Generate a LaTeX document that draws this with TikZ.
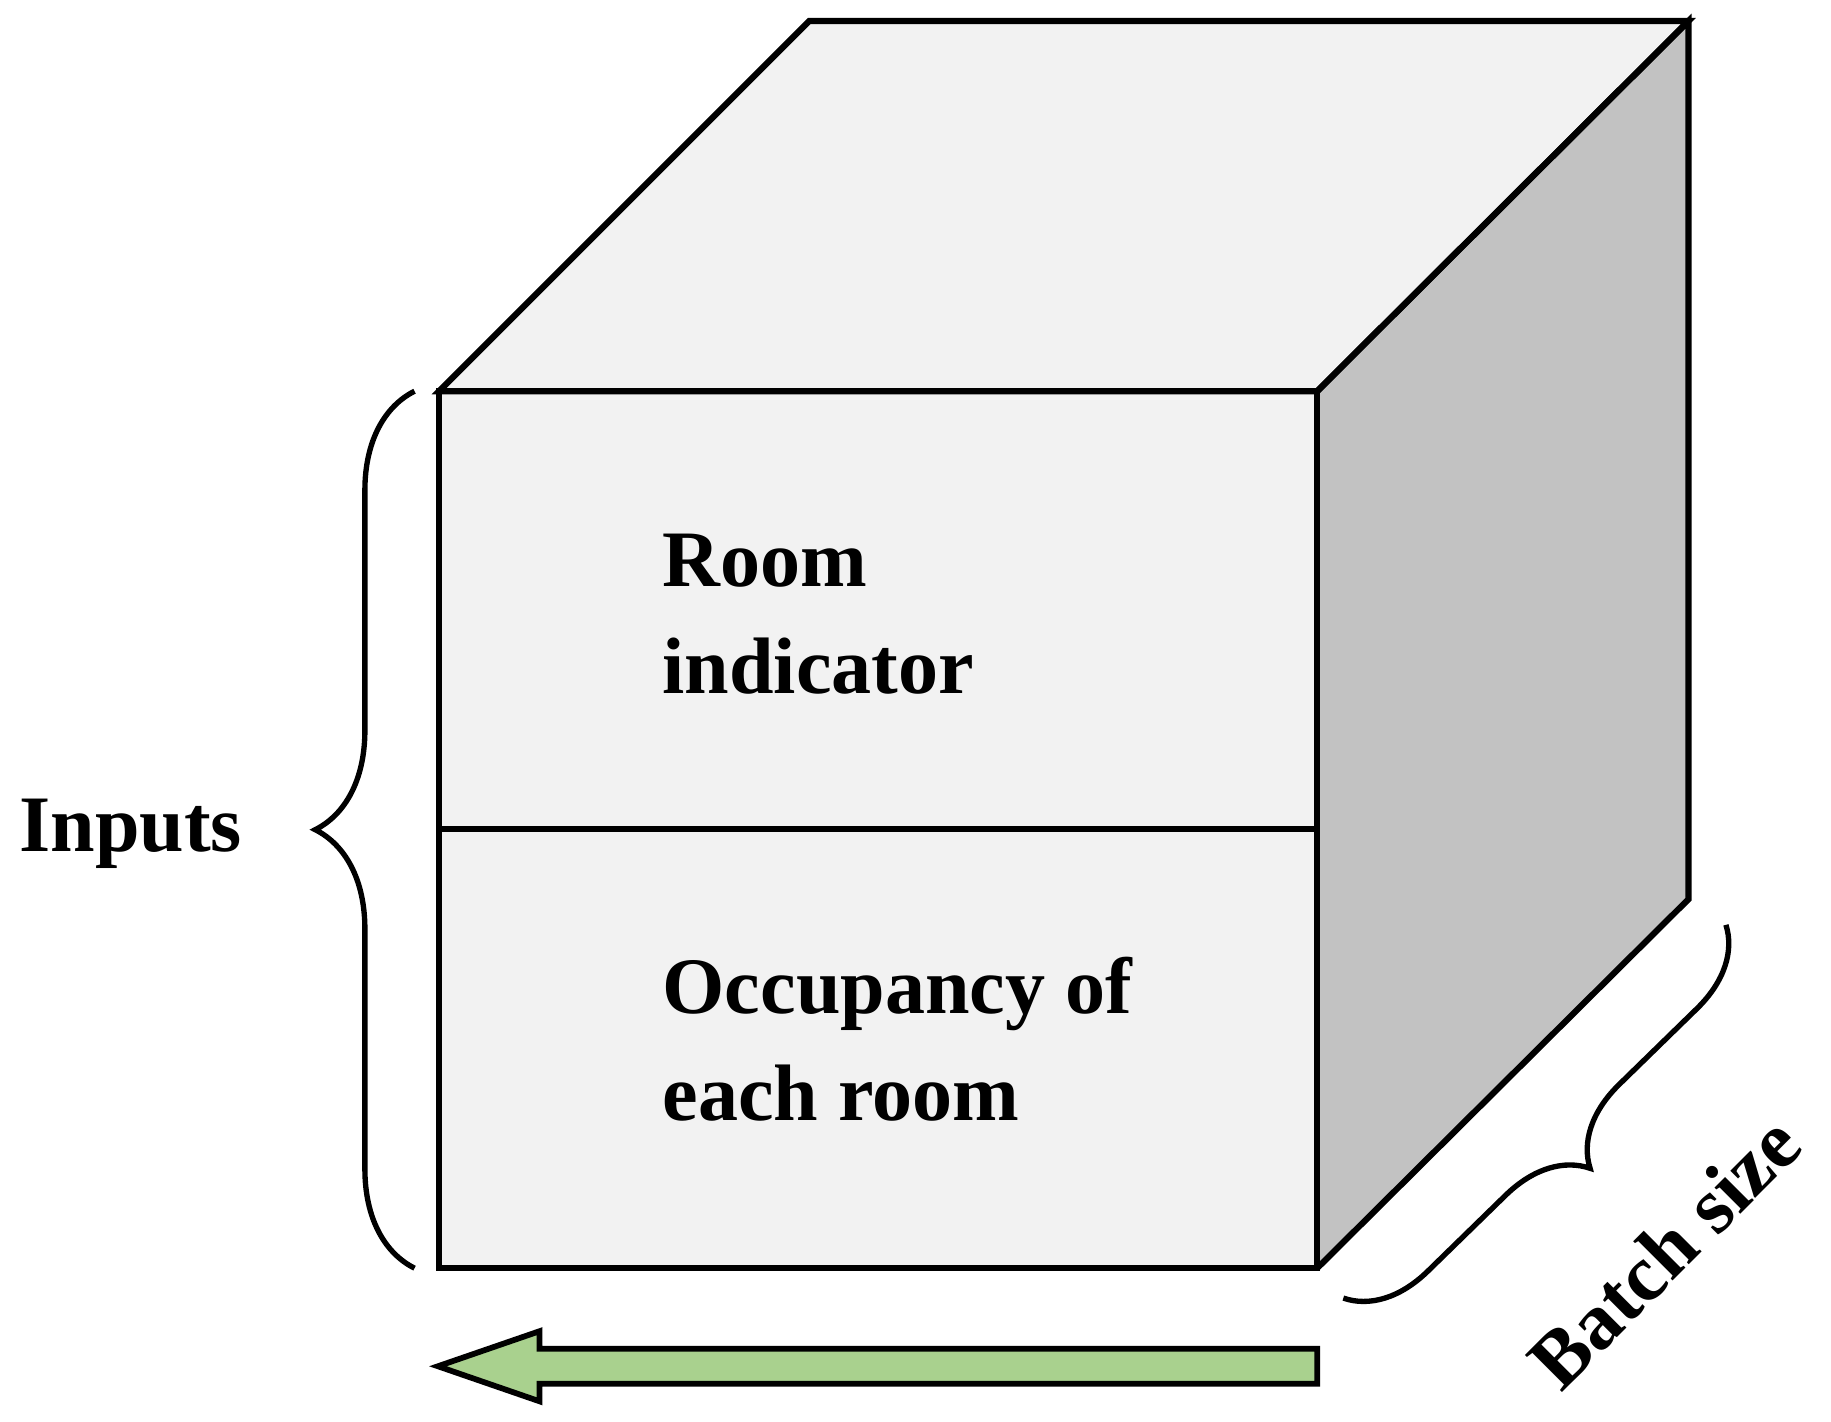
\documentclass[tikz,border=0pt]{standalone}
\usepackage{fontspec}
\setmainfont{Liberation Serif}
\usetikzlibrary{decorations.pathreplacing}
\definecolor{arrowgreen}{HTML}{A9D18E}
\begin{document}
\begin{tikzpicture}[x=0.01cm,y=-0.01cm,
  edge/.style={draw=black,line width=1.5pt,line join=miter},
  lbl/.style={font=\fontsize{19.5}{26}\selectfont\bfseries,align=left},
  brc/.style={draw=black,line width=1.3pt,decorate}]
\useasboundingbox (0,0) rectangle (1568,1217);
\coordinate (A) at (376,335); \coordinate (B) at (1128,335);
\coordinate (C) at (1128,1086); \coordinate (D) at (376,1086);
\coordinate (E) at (693,18); \coordinate (F) at (1446,18); \coordinate (G) at (1446,770);
\coordinate (ML) at (376,710); \coordinate (MR) at (1128,710);
\fill[black!5] (A) -- (E) -- (F) -- (B) -- cycle;
\fill[black!24] (B) -- (F) -- (G) -- (C) -- cycle;
\fill[black!5] (A) -- (B) -- (C) -- (D) -- cycle;
\draw[edge] (A) -- (E) -- (F) -- (B) -- cycle;
\draw[edge] (B) -- (F) -- (G) -- (C);
\draw[edge] (A) -- (B) -- (C) -- (D) -- cycle;
\draw[edge] (ML) -- (MR);
\node[lbl,anchor=west] (room) at (555,526) {Room\\indicator};
\node[lbl,anchor=west] (occ) at (555,890) {Occupancy of\\each room};
\coordinate (lb1) at (355,1086); \coordinate (lb2) at (355,335);
\draw[brc,decoration={brace,amplitude=0.85cm}] (lb1) -- (lb2);
\node[lbl] (inputs) at (112,714) {Inputs};
\coordinate (bb1) at (1478,792); \coordinate (bb2) at (1150,1112);
\draw[brc,decoration={brace,amplitude=0.68cm}] (bb1) -- (bb2);
\node[lbl,rotate=45] (batch) at (1425,1072) {Batch size};
\draw[line width=1.4pt,fill=arrowgreen,line join=miter]
  (1128,1155) -- (462,1155) -- (462,1140) -- (375,1170) -- (462,1200) -- (462,1185) -- (1128,1185) -- cycle;
\end{tikzpicture}
\end{document}
